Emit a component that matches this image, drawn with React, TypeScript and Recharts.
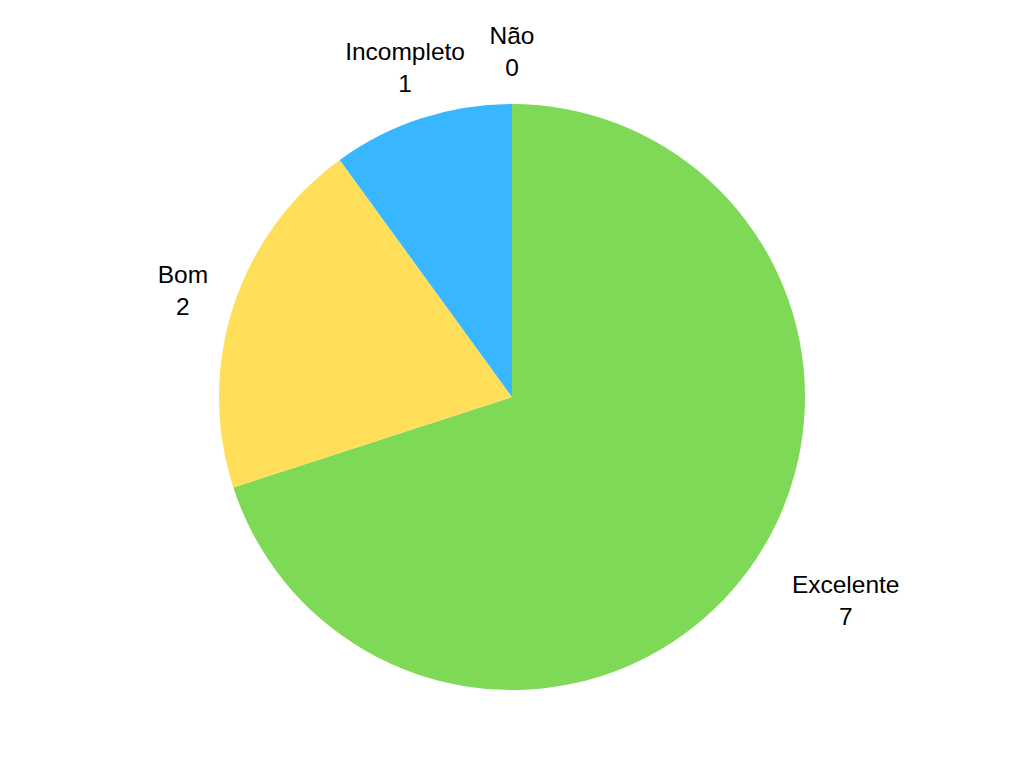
import React from 'react';
import { PieChart, Pie, Cell } from 'recharts';

const categories = ['Excelente', 'Bom', 'Incompleto', 'Não'];
const values = [7, 2, 1, 0];
const colors = ['#7ED957', '#FFDE59', '#38B6FF', '#FF5757'];

const data = categories.map((name, i) => ({ name, value: values[i] }));

const FONT = '"Liberation Sans", Arial, sans-serif';
const FONT_SIZE = 24.5;
const RADIAN = Math.PI / 180;

let ctx: CanvasRenderingContext2D | null = null;
const measure = (text: string) => {
  if (!ctx) ctx = document.createElement('canvas').getContext('2d');
  if (!ctx) return text.length * FONT_SIZE * 0.55;
  ctx.font = `${FONT_SIZE}px ${FONT}`;
  return ctx.measureText(text).width;
};

const renderLabel = (props: any) => {
  const { cx, cy, midAngle, outerRadius, name, value } = props;
  const r = outerRadius + 53;
  const x = cx + r * Math.cos(-midAngle * RADIAN);
  const y = cy + r * Math.sin(-midAngle * RADIAN);
  // labels on the right side start at the anchor point, others are centred
  let tx = x;
  if (x > cx + 20) {
    const w = Math.max(measure(String(name)), measure(String(value)));
    tx = x + w / 2;
  }
  return (
    <text x={tx} y={y} fill="#000" textAnchor="middle" fontFamily={FONT} fontSize={FONT_SIZE}>
      <tspan x={tx} y={y - 16} dominantBaseline="central">{name}</tspan>
      <tspan x={tx} y={y + 16} dominantBaseline="central">{value}</tspan>
    </text>
  );
};

export default function App() {
  return (
    <div style={{ position: 'absolute', left: 0, top: 0, width: 1024, height: 768, background: '#fff' }}>
      <PieChart width={1024} height={768} margin={{ top: 0, right: 0, bottom: 0, left: 0 }}>
        <Pie
          data={data}
          dataKey="value"
          nameKey="name"
          cx={512}
          cy={397}
          outerRadius={293}
          startAngle={90}
          endAngle={-270}
          stroke="none"
          label={renderLabel}
          labelLine={false}
          isAnimationActive={false}
        >
          {data.map((d, i) => (
            <Cell key={d.name} fill={colors[i]} />
          ))}
        </Pie>
      </PieChart>
    </div>
  );
}
